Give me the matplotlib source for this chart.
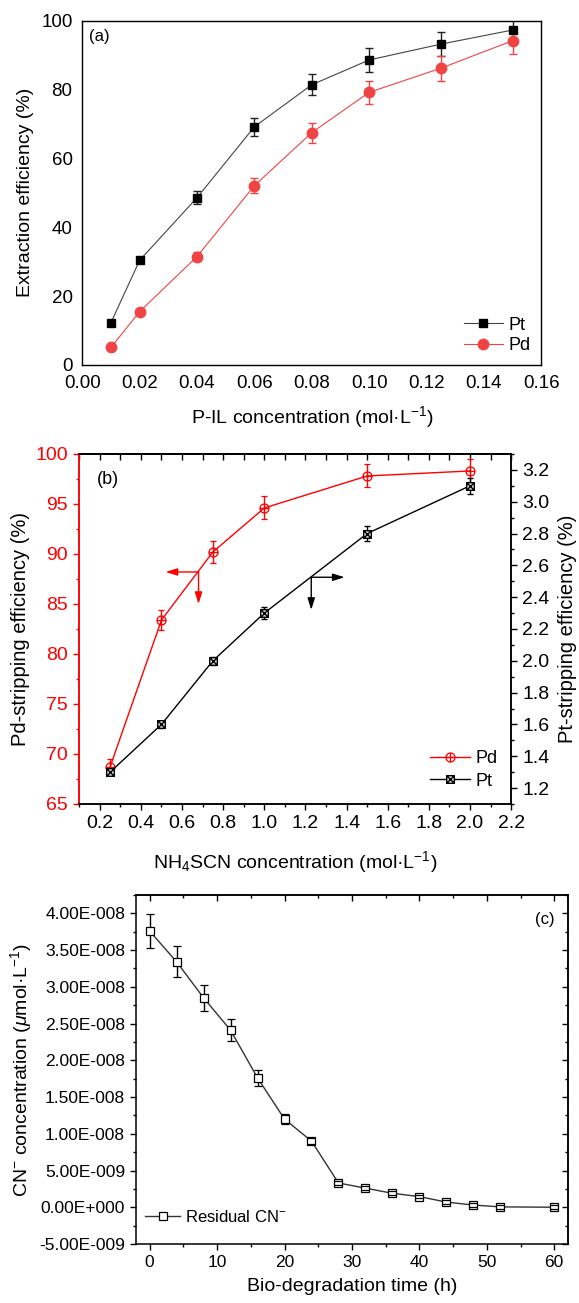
import matplotlib
matplotlib.use('Agg')
import matplotlib.pyplot as plt
import numpy as np
from matplotlib.path import Path
from matplotlib.ticker import MultipleLocator, FuncFormatter

plt.rcParams['font.family'] = ['Liberation Sans', 'DejaVu Sans']
plt.rcParams['mathtext.fontset'] = 'custom'
plt.rcParams['mathtext.rm'] = 'Liberation Sans'
plt.rcParams['mathtext.it'] = 'Liberation Sans:italic'

# (a) extraction
conc_a = [0.01, 0.02, 0.04, 0.06, 0.08, 0.10, 0.125, 0.15]
pt_a = [12.3, 30.4, 48.6, 69.2, 81.4, 88.6, 93.2, 97.3]
pt_a_err = [0.5, 0.5, 1.8, 2.6, 3.1, 3.4, 3.5, 3.7]
pd_a = [5.1, 15.5, 31.5, 52.1, 67.5, 79.2, 86.2, 94.2]
pd_a_err = [0.3, 0.5, 1.4, 2.2, 2.9, 3.4, 3.6, 3.8]

# (b) stripping
conc_b = [0.25, 0.5, 0.75, 1.0, 1.5, 2.0]
pd_b = [68.7, 83.4, 90.2, 94.6, 97.8, 98.3]
pd_b_err = [0.8, 1.0, 1.1, 1.15, 1.15, 1.2]
pt_b = [1.30, 1.60, 2.00, 2.30, 2.80, 3.10]
pt_b_err = [0.02, 0.02, 0.025, 0.035, 0.045, 0.05]

# (c) bio-degradation
time_c = [0, 4, 8, 12, 16, 20, 24, 28, 32, 36, 40, 44, 48, 52, 60]
cn_c = [3.76e-8, 3.34e-8, 2.85e-8, 2.41e-8, 1.76e-8, 1.20e-8, 9.0e-9, 3.3e-9,
        2.6e-9, 1.9e-9, 1.45e-9, 7.0e-10, 3.0e-10, 5.0e-11, 0.0]
cn_c_err = [2.3e-9, 2.1e-9, 1.8e-9, 1.5e-9, 1.1e-9, 7e-10, 4e-10, 3e-10,
            2.5e-10, 2.5e-10, 2.5e-10, 2.5e-10, 2.5e-10, 2.5e-10, 2.5e-10]

MOVE, LINE = Path.MOVETO, Path.LINETO
circ_plus = Path.make_compound_path(
    Path.unit_circle(),
    Path([[-1, 0], [1, 0], [0, -1], [0, 1]], [MOVE, LINE, MOVE, LINE]))
sq_x = Path.make_compound_path(
    Path([[-1, -1], [1, -1], [1, 1], [-1, 1], [-1, -1]], [MOVE, LINE, LINE, LINE, Path.CLOSEPOLY]),
    Path([[-1, -1], [1, 1], [-1, 1], [1, -1]], [MOVE, LINE, MOVE, LINE]))


def sci_fmt(v, pos):
    if abs(v) < 1e-20:
        return '0.00E+000'
    e = int(np.floor(np.log10(abs(v)) + 1e-9))
    m = v / 10.0 ** e
    return '%.2fE%s%03d' % (m, '-' if e < 0 else '+', abs(e))


fig = plt.figure(figsize=(5.79, 13.03), dpi=100)

# ---------------- (a)
ax = fig.add_axes([0.1421, 0.7199, 0.7928, 0.2642])
red_a = '#f04444'
e1 = ax.errorbar(conc_a, pt_a, yerr=pt_a_err, color='#444444', lw=0.8, marker='s', ms=6.2,
                 mfc='black', mec='black', ecolor='#222222', elinewidth=1, capsize=3)
e2 = ax.errorbar(conc_a, pd_a, yerr=pd_a_err, color=red_a, lw=0.8, marker='o', ms=7.5,
                 mfc=red_a, mec=red_a, ecolor=red_a, elinewidth=1, capsize=3)
ax.set_xlim(0, 0.16)
ax.set_ylim(0, 100)
ax.set_xticks(np.arange(0, 0.161, 0.02))
ax.set_xticklabels(['%.2f' % v for v in np.arange(0, 0.161, 0.02)])
ax.set_yticks(np.arange(0, 101, 20))
ax.tick_params(length=0, labelsize=13.5, pad=7)
for s in ax.spines.values():
    s.set_linewidth(1)
ax.set_xlabel('P-IL concentration (mol·L$^{-1}$)', fontsize=14, labelpad=9)
ax.set_ylabel('Extraction efficiency (%)', fontsize=14, labelpad=5)
ax.text(0.015, 0.975, '(a)', transform=ax.transAxes, fontsize=12, va='top', ha='left')
ax.legend([e1[0], e2[0]], ['Pt', 'Pd'], loc='lower right', frameon=False, fontsize=13,
          handlelength=2.2, handletextpad=0.3, borderaxespad=0, labelspacing=0.2,
          bbox_to_anchor=(0.993, 0.01))

# ---------------- (b)
axb = fig.add_axes([0.1368, 0.3830, 0.7461, 0.2686])
axr = axb.twinx()
e3 = axb.errorbar(conc_b, pd_b, yerr=pd_b_err, color='red', lw=1, marker=circ_plus, ms=6.5,
                  mfc='none', mec='red', mew=0.9, ecolor='red', elinewidth=1, capsize=2.5)
e4 = axr.errorbar(conc_b, pt_b, yerr=pt_b_err, color='black', lw=1, marker=sq_x, ms=5.5,
                  mfc='#dddddd', mec='black', mew=1.0, ecolor='black', elinewidth=1, capsize=2.5)
axb.set_xlim(0.1, 2.2)
axb.set_ylim(65, 100)
axr.set_ylim(1.1, 3.3)
axb.xaxis.set_major_locator(MultipleLocator(0.2))
axb.xaxis.set_minor_locator(MultipleLocator(0.1))
axb.xaxis.set_major_formatter(FuncFormatter(lambda v, p: '%.1f' % v))
axb.yaxis.set_major_locator(MultipleLocator(5))
axb.yaxis.set_minor_locator(MultipleLocator(2.5))
axr.yaxis.set_major_locator(MultipleLocator(0.2))
axr.yaxis.set_minor_locator(MultipleLocator(0.1))
axr.yaxis.set_major_formatter(FuncFormatter(lambda v, p: '%.1f' % v))
axb.tick_params(axis='both', which='both', direction='out', labelsize=14)
axb.tick_params(which='major', length=4.5, width=1)
axb.tick_params(which='minor', length=2.5, width=1)
axb.tick_params(axis='y', which='both', colors='red')
axr.tick_params(axis='y', which='major', direction='out', length=4.5, width=1, labelsize=14)
axr.tick_params(axis='y', which='minor', direction='out', length=2.5, width=1)
topb = axb.secondary_xaxis('top')
topb.xaxis.set_major_locator(MultipleLocator(0.2))
topb.xaxis.set_minor_locator(MultipleLocator(0.1))
topb.tick_params(which='both', direction='in', labeltop=False, width=1)
topb.tick_params(which='major', length=4)
topb.tick_params(which='minor', length=4)
for s in list(axb.spines.values()) + list(axr.spines.values()) + list(topb.spines.values()):
    s.set_linewidth(1.1)
axr.spines['left'].set_color('red')
axb.spines['left'].set_color('red')
axb.set_xlabel('NH$_4$SCN concentration (mol·L$^{-1}$)', fontsize=14, labelpad=12)
axb.set_ylabel('Pd-stripping efficiency (%)', fontsize=14.5, labelpad=4)
axr.set_ylabel('Pt-stripping efficiency (%)', fontsize=14.5, rotation=90, labelpad=6)
axb.text(0.04, 0.95, '(b)', transform=axb.transAxes, fontsize=13, va='top', ha='left')
arw = dict(arrowstyle='-|>,head_length=0.7,head_width=0.22', color='red', lw=1,
           mutation_scale=10, shrinkA=0, shrinkB=0)
axb.annotate('', xy=(0.52, 88.2), xytext=(0.68, 88.2), arrowprops=arw)
axb.annotate('', xy=(0.68, 85.0), xytext=(0.68, 88.2), arrowprops=arw)
arw_k = dict(arrowstyle='-|>,head_length=0.7,head_width=0.22', color='black', lw=1,
             mutation_scale=10, shrinkA=0, shrinkB=0)
axr.annotate('', xy=(1.39, 2.525), xytext=(1.228, 2.525), arrowprops=arw_k)
axr.annotate('', xy=(1.228, 2.32), xytext=(1.228, 2.525), arrowprops=arw_k)
axr.legend([e3[0], e4[0]], ['Pd', 'Pt'], loc='lower right', frameon=False, fontsize=13,
           handlelength=2.2, handletextpad=0.3, borderaxespad=0, labelspacing=0.3,
           bbox_to_anchor=(0.985, 0.02))

# ---------------- (c)
axc = fig.add_axes([0.2352, 0.0453, 0.7453, 0.2678])
e5 = axc.errorbar(time_c, cn_c, yerr=cn_c_err, color='#333333', lw=1, marker='s', ms=5.5,
                  mfc='white', mec='black', mew=0.9, ecolor='black', elinewidth=1, capsize=3)
for cl in e5[1]:
    cl.set_zorder(4)
axc.set_xlim(-2, 62)
axc.set_ylim(-5e-9, 4.25e-8)
axc.xaxis.set_major_locator(MultipleLocator(10))
axc.xaxis.set_minor_locator(MultipleLocator(5))
axc.yaxis.set_major_locator(MultipleLocator(5e-9))
axc.yaxis.set_minor_locator(MultipleLocator(2.5e-9))
axc.yaxis.set_major_formatter(FuncFormatter(sci_fmt))
axc.tick_params(which='both', direction='out', width=1, labelsize=12.5)
axc.tick_params(which='major', length=4.5)
axc.tick_params(which='minor', length=2.5)
topc = axc.secondary_xaxis('top')
topc.xaxis.set_major_locator(MultipleLocator(10))
topc.xaxis.set_minor_locator(MultipleLocator(5))
topc.tick_params(which='both', direction='in', labeltop=False, width=1)
topc.tick_params(which='major', length=4.5)
topc.tick_params(which='minor', length=2.5)
rightc = axc.secondary_yaxis('right')
rightc.yaxis.set_major_locator(MultipleLocator(5e-9))
rightc.yaxis.set_minor_locator(MultipleLocator(2.5e-9))
rightc.tick_params(which='both', direction='in', labelright=False, width=1)
rightc.tick_params(which='major', length=4.5)
rightc.tick_params(which='minor', length=2.5)
for s in list(axc.spines.values()) + list(topc.spines.values()) + list(rightc.spines.values()):
    s.set_linewidth(1.1)
axc.set_xlabel('Bio-degradation time (h)', fontsize=14, labelpad=6)
axc.set_ylabel('CN$^{-}$ concentration ($\\mathit{\\mu}$mol·L$^{-1}$)', fontsize=14, labelpad=4)
axc.text(0.97, 0.95, '(c)', transform=axc.transAxes, fontsize=12, va='top', ha='right')
axc.legend([e5[0]], ['Residual CN$^{-}$'], loc='lower left', frameon=False, fontsize=12,
           handlelength=2.1, handletextpad=0.3, borderaxespad=0,
           bbox_to_anchor=(0.005, 0.035))

fig.savefig('out.png', dpi=100)
